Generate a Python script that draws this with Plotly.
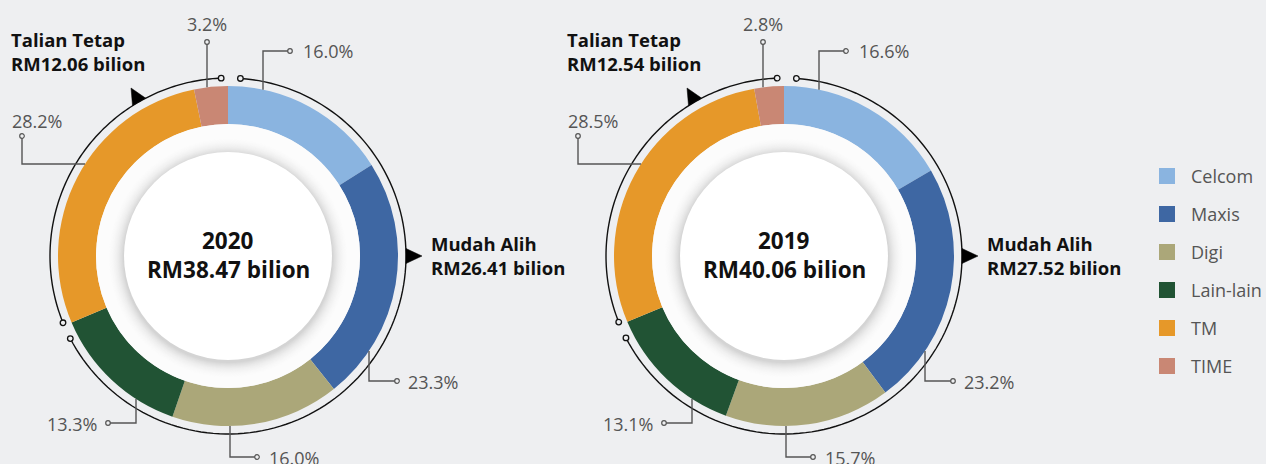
import math
import plotly.graph_objects as go

# ---------------- data ----------------
years = ["2020", "2019"]
totals = [38.47, 40.06]            # RM bilion
mobile_totals = [26.41, 27.52]     # Mudah Alih
fixed_totals = [12.06, 12.54]      # Talian Tetap
categories = ["Celcom", "Maxis", "Digi", "Lain-lain", "TM", "TIME"]
shares_2020 = [16.0, 23.3, 16.0, 13.3, 28.2, 3.2]
shares_2019 = [16.6, 23.2, 15.7, 13.1, 28.5, 2.8]
mobile_members = ["Celcom", "Maxis", "Digi", "Lain-lain"]
colors = ["#8ab4e0", "#3e67a3", "#aba779", "#215334", "#e69829", "#c98774"]

# ---------------- layout constants ----------------
W, H = 1266, 464
BG = "#eeeff1"
FONT = "Open Sans"
centers = [(228, 256), (784, 256)]
R_OUT, R_IN, R_CORE, R_ARC = 170, 132, 104, 178
LINE_GREY = "#555555"
TEXT_GREY = "#555555"
PCT_SIZE = 18
BOLD_SIZE = 18.5
CENTER_SIZE = 22.5
LEG_SIZE = 18

# leader line geometry (relative to centre): vertical x offset, elbow y, end x, text anchor
leaders = {
    "Celcom":    dict(kind="up", dx=35, ey=-205, ex=62, tx=73, ty=-205, anchor="left"),
    "TIME":      dict(kind="vert", dx=-21, ey=-214, tx=-21, ty=-232, anchor="center"),
    "TM":        dict(kind="tm", dx=-206, ey=-92, cy=-120, tx=-218, ty=-135, anchor="left"),
    "Maxis":     dict(kind="down", dx=141, ey=125, ex=169, tx=178, ty=126, anchor="left"),
    "Digi":      dict(kind="down", dx=2, ey=201, ex=29, tx=39, ty=202, anchor="left"),
    "Lain-lain": dict(kind="down", dx=-92, ey=167, ex=-120, tx=-129, ty=168, anchor="right"),
}

fig = go.Figure()
shapes = []
annotations = []


def pt(cx, cy, r, deg):
    a = math.radians(deg)
    return cx + r * math.sin(a), cy - r * math.cos(a)


def arc_path(cx, cy, r, a0, a1, n=120):
    pts = [pt(cx, cy, r, a0 + (a1 - a0) * i / n) for i in range(n + 1)]
    return "M " + " L ".join(f"{x:.2f},{y:.2f}" for x, y in pts)


def circle(x, y, r, line_color, fill, width=1.2):
    shapes.append(dict(type="circle", xref="x", yref="y", x0=x - r, x1=x + r, y0=y - r, y1=y + r,
                       line=dict(color=line_color, width=width), fillcolor=fill, layer="above"))


def hex_mix(c1, c2, t):
    a = [int(c1[i:i + 2], 16) for i in (1, 3, 5)]
    b = [int(c2[i:i + 2], 16) for i in (1, 3, 5)]
    return "#" + "".join(f"{round(a[i] + (b[i] - a[i]) * t):02x}" for i in range(3))


for idx, (year, shares) in enumerate(zip(years, [shares_2020, shares_2019])):
    cx, cy = centers[idx]
    fig.add_trace(go.Pie(
        labels=categories, values=shares, sort=False, direction="clockwise", rotation=0,
        hole=R_IN / R_OUT, textinfo="none", showlegend=False,
        marker=dict(colors=colors, line=dict(width=0)),
        hovertemplate="%{label}: %{value:.1f}%<extra>" + year + "</extra>",
        domain=dict(x=[(cx - R_OUT) / W, (cx + R_OUT) / W],
                    y=[(H - cy - R_OUT) / H, (H - cy + R_OUT) / H]),
    ))

    # inner white disc with soft shadow around the core
    circle(cx, cy, R_IN, "rgba(0,0,0,0)", "#fcfcfc", 0)
    steps = 18
    for k in range(steps, 0, -1):
        t = (1 - k / steps) ** 2.2
        circle(cx, cy + 2, R_CORE + k, "rgba(0,0,0,0)", hex_mix("#fcfcfc", "#cfcfcf", t), 0)
    circle(cx, cy, R_CORE, "rgba(0,0,0,0)", "#ffffff", 0)

    # group arcs
    mobile_share = sum(s for c, s in zip(categories, shares) if c in mobile_members)
    boundary = 360 * mobile_share / sum(shares)
    arcs = [(4.0, boundary - 4.6), (boundary + 1.0, 357.8)]
    for a0, a1 in arcs:
        shapes.append(dict(type="path", xref="x", yref="y", path=arc_path(cx, cy, R_ARC, a0, a1),
                           line=dict(color="#111111", width=1.4), layer="above"))
    for a0, a1 in arcs:
        for a in (a0, a1):
            x, y = pt(cx, cy, R_ARC, a)
            circle(x, y, 2.8, "#111111", BG, 1.3)

    # arrows (base on arc, tip pointing outward)
    for ang in (90, 330):
        bx, by = pt(cx, cy, R_ARC, ang)
        tx, ty = pt(cx, cy, R_ARC + 16, ang)
        a = math.radians(ang)
        ux, uy = math.cos(a), math.sin(a)
        p1 = (bx - 7.5 * ux, by - 7.5 * uy)
        p2 = (bx + 7.5 * ux, by + 7.5 * uy)
        shapes.append(dict(type="path", xref="x", yref="y",
                           path=f"M {p1[0]:.2f},{p1[1]:.2f} L {tx:.2f},{ty:.2f} L {p2[0]:.2f},{p2[1]:.2f} Z",
                           fillcolor="#000000", line=dict(color="#000000", width=0.5), layer="above"))

    # leader lines and percentage labels
    for cat, val in zip(categories, shares):
        g = leaders[cat]
        if g["kind"] == "tm":
            edge_x = -math.sqrt(R_OUT ** 2 - g["ey"] ** 2)
            pts = [(edge_x, g["ey"]), (g["dx"], g["ey"]), (g["dx"], g["cy"])]
        else:
            sign = -1 if g["kind"] in ("up", "vert") else 1
            edge_y = sign * math.sqrt(R_OUT ** 2 - g["dx"] ** 2)
            pts = [(g["dx"], edge_y), (g["dx"], g["ey"])]
            if g["kind"] != "vert":
                pts.append((g["ex"], g["ey"]))
        path = "M " + " L ".join(f"{cx + x:.2f},{cy + y:.2f}" for x, y in pts)
        shapes.append(dict(type="path", xref="x", yref="y", path=path,
                           line=dict(color=LINE_GREY, width=1.4), layer="above"))
        ex, ey = pts[-1]
        circle(cx + ex, cy + ey, 2.3, LINE_GREY, BG, 1.2)
        annotations.append(dict(x=cx + g["tx"], y=cy + g["ty"], xref="x", yref="y",
                                text=f"{val:.1f}%", showarrow=False, xanchor=g["anchor"],
                                yanchor="middle", font=dict(family=FONT, size=PCT_SIZE, color=TEXT_GREY)))

    # centre text
    annotations.append(dict(x=cx, y=cy - 16, xref="x", yref="y", text=f"<b>{year}</b>",
                            showarrow=False, xanchor="center", yanchor="middle",
                            font=dict(family=FONT, size=CENTER_SIZE, color="#111111")))
    annotations.append(dict(x=cx, y=cy + 13, xref="x", yref="y", text=f"<b>RM{totals[idx]:.2f} bilion</b>",
                            showarrow=False, xanchor="center", yanchor="middle",
                            font=dict(family=FONT, size=CENTER_SIZE, color="#111111")))

    # group labels
    annotations.append(dict(x=cx - 219, y=cy - 205, xref="x", yref="y",
                            text=f"<b>Talian Tetap</b><br><b>RM{fixed_totals[idx]:.2f} bilion</b>",
                            showarrow=False, xanchor="left", yanchor="middle", align="left",
                            font=dict(family=FONT, size=BOLD_SIZE, color="#111111")))
    annotations.append(dict(x=cx + 201, y=cy - 1, xref="x", yref="y",
                            text=f"<b>Mudah Alih</b><br><b>RM{mobile_totals[idx]:.2f} bilion</b>",
                            showarrow=False, xanchor="left", yanchor="middle", align="left",
                            font=dict(family=FONT, size=BOLD_SIZE, color="#111111")))

# legend (drawn on the hidden pixel axes)
leg_x, leg_y0, leg_dy = 1167, 176, 38
leg_y = [leg_y0 + i * leg_dy for i in range(len(categories))]
fig.add_trace(go.Scatter(x=[leg_x] * len(categories), y=leg_y, mode="markers",
                         marker=dict(symbol="square", size=16, color=colors, line=dict(width=0)),
                         hovertext=categories, hoverinfo="text", showlegend=False))
for c, y in zip(categories, leg_y):
    annotations.append(dict(x=leg_x + 22, y=y, xref="x", yref="y", text=c, showarrow=False,
                            xanchor="left", yanchor="middle",
                            font=dict(family=FONT, size=LEG_SIZE, color=TEXT_GREY)))

fig.update_layout(
    width=W, height=H, margin=dict(l=0, r=0, t=0, b=0),
    paper_bgcolor=BG, plot_bgcolor=BG,
    xaxis=dict(range=[0, W], visible=False, fixedrange=True),
    yaxis=dict(range=[H, 0], visible=False, fixedrange=True),
    shapes=shapes, annotations=annotations, showlegend=False,
)

fig.write_html("out.html", config={"displayModeBar": False},
               post_script="document.body.style.margin='0';document.body.style.background='#eeeff1';"
                           "document.documentElement.style.overflow='hidden';")
